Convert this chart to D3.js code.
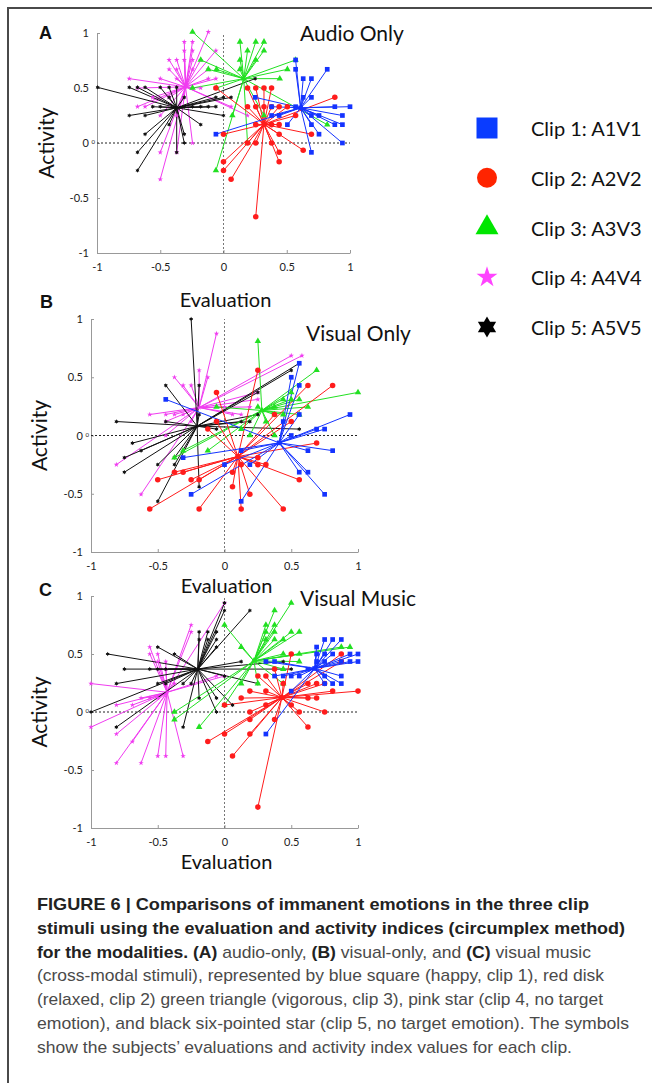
<!DOCTYPE html>
<html lang="en">
<head>
<meta charset="UTF-8">
<title>Figure 6</title>
<style>
  body { margin: 0; background: #fff; }
  svg { display: block; }
  .axis text { font-family: Lato, sans-serif; font-size: 11px; fill: #222; }
  .axis path, .axis line { stroke: #999; }
  .lbl { font-family: Lato, sans-serif; fill: #111; }
  .letter { font-family: "Liberation Sans", Arial, sans-serif; font-weight: bold; font-size: 18px; fill: #111; }
  .cap { font-family: "Liberation Sans", Arial, sans-serif; font-size: 17px; fill: #4a4a4a; }
  .cap .b { font-weight: bold; fill: #222; }
</style>
</head>
<body>
<svg width="652" height="1083"></svg>
<script src="https://d3js.org/d3.v7.min.js"></script>
<script>
// ---- data: [evaluation, activity] per subject ----
const clipNames = ["Clip 1: A1V1", "Clip 2: A2V2", "Clip 3: A3V3", "Clip 4: A4V4", "Clip 5: A5V5"];
const ticks = [-1, -0.5, 0, 0.5, 1];

// A: audio only
const audioMeans = [[0.61, 0.32], [0.32, 0.17], [0.16, 0.585], [-0.30, 0.51], [-0.37, 0.32]];
const audioBlue = [[0.57,0.755],[0.57,0.67],[0.82,0.67],[0.63,0.585],[0.695,0.585],[0.63,0.415],[0.695,0.415],[0.25,0.415],[0.38,0.33],[0.57,0.33],[0.88,0.33],[1.0,0.33],[0.38,0.25],[0.44,0.25],[0.695,0.25],[0.755,0.25],[0.94,0.25],[0.505,0.167],[0.695,0.167],[0.88,0.167],[0.94,0.167],[-0.06,0.08],[0.755,0.08],[0.695,-0.085],[0.94,0]];
const audioRed = [[-0.06,0.5],[0.19,0.5],[0.255,0.5],[0.32,0.5],[0.38,0.5],[0.19,0.33],[0.255,0.33],[0.32,0.33],[0.38,0.33],[0.44,0.33],[0.505,0.33],[0.57,0.25],[0.255,0.167],[0.38,0.167],[0.44,0.167],[0,0.08],[0.44,0.08],[0.695,0.08],[0.88,0.415],[0.19,0],[0.255,0],[0.38,0],[0.44,-0.085],[0.44,-0.17],[0.63,-0.065],[0,-0.17],[0,-0.25],[0.06,-0.33],[0.255,-0.67]];
const audioGreen = [[-0.245,1.01],[0.13,0.92],[0.255,0.92],[0.32,0.92],[0.19,0.84],[0.32,0.84],[0.13,0.755],[0.255,0.755],[-0.18,0.755],[-0.12,0.67],[-0.055,0.67],[0.13,0.67],[0.505,0.67],[0.57,0.755],[0.445,0.585],[-0.245,0.5],[-0.055,0.5],[0.07,0.25],[0.19,0],[-0.06,-0.25],[0.32,0.25],[0.82,0.167]];
const audioPink = [[-0.12,1.01],[-0.31,0.92],[-0.245,0.92],[-0.31,0.84],[-0.245,0.84],[-0.06,0.84],[-0.43,0.755],[-0.37,0.755],[-0.31,0.755],[-0.245,0.755],[-0.18,0.755],[-0.43,0.67],[-0.37,0.67],[-0.245,0.67],[-0.12,0.67],[-0.745,0.585],[-0.50,0.585],[-0.37,0.585],[-0.12,0.585],[-0.06,0.585],[-0.68,0.5],[-0.245,0.5],[-0.18,0.5],[-0.56,0.415],[-0.43,0.415],[-0.68,0.33],[-0.62,0.33],[-0.50,0.25],[-0.37,0.25],[-0.50,-0.085],[-0.37,-0.085],[-0.245,0],[-0.50,-0.33],[0.19,0.25],[0.06,0.33]];
const audioBlack = [[-0.995,0.506],[-0.745,0.506],[-0.68,0.506],[-0.62,0.506],[-0.50,0.506],[-0.43,0.506],[-0.37,0.506],[-0.745,0.25],[-0.62,0.25],[-0.56,0.33],[-0.50,0.33],[-0.43,0.415],[-0.31,0.415],[-0.31,0.33],[-0.245,0.33],[-0.18,0.33],[-0.12,0.33],[-0.06,0.33],[-0.06,0.415],[0,0.415],[0.06,0.415],[0,0.25],[0.25,0.585],[-0.18,0.167],[-0.43,0.167],[-0.62,0.08],[-0.68,-0.085],[-0.68,-0.25],[-0.37,-0.085],[-0.31,0.08],[-0.31,0]];

// B: visual only
const visualMeans = [[0.41, -0.063], [0.10, -0.18], [0.28, 0.215], [-0.19, 0.24], [-0.205, 0.08]];
const visualBlue = [[0.56,0.62],[0.5,0.5],[0.56,0.43],[0.56,0.18],[0.44,0.12],[0.94,0.18],[0.69,0.055],[0.75,0.055],[0.5,0],[0.625,-0.13],[0.81,-0.13],[0.56,-0.315],[0.625,-0.315],[0.75,-0.505],[0.125,-0.565],[-0.25,-0.505],[0,-0.25],[0.19,-0.25],[0.125,-0.13],[-0.31,-0.19],[-0.44,0.31]];
const visualRed = [[-0.06,0.37],[0.25,0.56],[0.625,0.43],[0.81,0.43],[0.375,0.18],[0.5,0.12],[-0.06,0.12],[-0.125,0.055],[0.69,-0.065],[0.56,-0.38],[0.25,-0.19],[0.25,-0.25],[0.31,-0.25],[0.06,-0.315],[0.06,-0.44],[0.19,-0.505],[0.125,-0.63],[0.44,-0.63],[-0.19,-0.63],[-0.56,-0.63],[-0.5,-0.38],[-0.375,-0.315],[-0.31,-0.315],[-0.25,-0.38],[-0.19,-0.38],[0.125,-0.25]];
const visualGreen = [[0.25,0.81],[0.69,0.56],[1.0,0.37],[0.625,0.245],[0.5,0.37],[0.56,0.31],[0.44,0.31],[0.5,0.31],[0.25,0.245],[0.375,0.245],[0.375,0.18],[0.44,0.18],[0.56,0.18],[0.31,0.12],[0.19,0],[0.375,0],[0.125,0.055],[-0.125,-0.13],[-0.375,-0.19],[-0.31,-0.13],[-0.06,0.245]];
const visualPink = [[-0.06,0.875],[-0.19,0.56],[-0.125,0.5],[-0.375,0.5],[-0.31,0.43],[-0.25,0.43],[0.5,0.685],[0.58,0.685],[0.25,0.37],[0.25,0.31],[-0.56,0.18],[-0.44,0.18],[-0.375,0.18],[-0.31,0.18],[-0.44,0.12],[-0.25,0.12],[0.06,0.18],[0.125,0.18],[-0.44,0],[-0.81,-0.25],[-0.625,-0.505],[0,0.245],[0.19,0.245]];
const visualBlack = [[-0.25,1.0],[-0.44,0.43],[-0.19,0.43],[-0.81,0.12],[-0.69,-0.065],[-0.75,-0.19],[-0.75,-0.315],[-0.625,-0.13],[-0.5,-0.25],[-0.5,-0.565],[-0.375,-0.25],[-0.19,-0.44],[0.56,0.62],[0.5,0.56],[0.25,0.37],[0.25,0.18],[0.125,0.12],[0.19,0.12],[0.56,0.055],[-0.06,0.055],[-0.19,0.18],[-0.44,0.12],[-0.375,-0.19]];

// C: visual music
const musicMeans = [[0.675, 0.375], [0.43, 0.125], [0.22, 0.44], [-0.43, 0.17], [-0.2, 0.37]];
const musicBlue = [[0.69,0.56],[0.75,0.625],[0.81,0.625],[0.875,0.625],[0.69,0.5],[0.75,0.5],[0.81,0.5],[0.94,0.5],[1.0,0.5],[0.69,0.435],[0.75,0.435],[0.875,0.435],[0.94,0.435],[1.0,0.435],[0.375,0.435],[0.31,0.435],[0.44,0.31],[0.5,0.31],[0.56,0.31],[0.375,0.31],[0.75,0.31],[0.875,0.31],[0.75,0.245],[0.81,0.245],[0.875,0.245],[0.5,0.18],[0.31,-0.19],[0.625,0.37]];
const musicRed = [[0.5,0.5],[0.875,0.5],[0.875,0.435],[0.31,0.31],[0.25,0.31],[0.375,0.37],[0.625,0.245],[0.69,0.245],[0.75,0.245],[0.125,0.12],[0.19,0.18],[0.31,0.18],[0.625,0.12],[0.69,0.12],[0.81,0.18],[1.0,0.18],[0.31,0.06],[0.5,0.06],[0.19,0],[0.56,0],[0.75,0],[0.19,-0.065],[0.375,-0.065],[0.625,-0.13],[0.19,-0.19],[0,-0.19],[-0.125,-0.255],[0.06,-0.38],[0.25,-0.82],[0,0.06],[0.44,0.245]];
const musicGreen = [[0.5,0.94],[0.375,0.875],[0.31,0.75],[0.375,0.75],[0.31,0.69],[0.375,0.69],[0.5,0.69],[0.56,0.69],[0.31,0.625],[0.375,0.625],[0.44,0.625],[0,0.75],[0.125,0.56],[0.44,0.5],[0.56,0.5],[0.94,0.56],[0.56,0.435],[0.44,0.37],[0.125,0.245],[0.25,0.245],[0.44,0.245],[-0.19,-0.13],[-0.375,0],[-0.375,-0.065],[0,0.06],[0.875,0.56]];
const musicPink = [[0,0.94],[-0.25,0.75],[-0.25,0.69],[-0.56,0.56],[-0.5,0.5],[-0.56,0.5],[-0.5,0.435],[-0.44,0.435],[-1,0.245],[-0.625,0.12],[-0.56,0.12],[-0.5,0.12],[-0.81,0.06],[-0.69,0.06],[-1,-0.13],[-0.81,-0.19],[-0.69,-0.255],[-0.81,-0.44],[-0.625,-0.44],[-0.5,-0.38],[-0.44,-0.38],[-0.31,-0.38],[-0.375,0.245],[-0.06,0.31],[0,0.31],[-0.44,0.37]];
const musicBlack = [[0,0.875],[0,0.94],[0.19,0.875],[-0.19,0.69],[-0.125,0.69],[-0.06,0.69],[-0.19,0.625],[-0.125,0.625],[-0.06,0.625],[-0.06,0.56],[-0.5,0.56],[-0.875,0.5],[-0.375,0.5],[-0.75,0.37],[-0.56,0.37],[-0.5,0.37],[-0.44,0.37],[-0.81,0.245],[-0.5,0.245],[-0.44,0.245],[-0.31,0.245],[-0.25,0.245],[0,0.31],[-0.19,0.12],[-0.06,0.12],[0.06,0.06],[-0.06,0],[-0.31,-0.13],[-0.81,-0.13],[-1,0],[0.25,0.245],[0.125,0.435],[0.44,0.435],[0.5,0.37]];

const captionLines = [
  [["FIGURE 6 | Comparisons of immanent emotions in the three clip", 1]],
  [["stimuli using the evaluation and activity indices (circumplex method)", 1]],
  [["for the modalities. (A)", 1], [" audio-only, ", 0], ["(B)", 1], [" visual-only, and ", 0], ["(C)", 1], [" visual music", 0]],
  [["(cross-modal stimuli), represented by blue square (happy, clip 1), red disk", 0]],
  [["(relaxed, clip 2) green triangle (vigorous, clip 3), pink star (clip 4, no target", 0]],
  [["emotion), and black six-pointed star (clip 5, no target emotion). The symbols", 0]],
  [["show the subjects\u2019 evaluations and activity index values for each clip.", 0]]
];
const captionWidths = [552, 588, 554, 567, 566, 592, 535];

// ---- styling ----
const colors = ["#1433ff", "#ff1c1c", "#22e022", "#f03cf0", "#111111"];
const legendColors = ["#0a3cff", "#ff2400", "#00e600", "#ff44ff", "#000000"];

const symbolHexagram = {
  draw(ctx, size) {
    const r = Math.sqrt(size / 2.6), ri = r / Math.sqrt(3);
    for (let i = 0; i < 12; i++) {
      const a = Math.PI / 6 * i - Math.PI / 2, rr = i % 2 ? ri : r;
      if (i) ctx.lineTo(rr * Math.cos(a), rr * Math.sin(a));
      else ctx.moveTo(rr * Math.cos(a), rr * Math.sin(a));
    }
    ctx.closePath();
  }
};
const shapes = [d3.symbolSquare, d3.symbolCircle, d3.symbolTriangle, d3.symbolStar, symbolHexagram];
const markSizes = [22, 24, 18, 9, 13];

const svg = d3.select("svg");
svg.append("rect").attr("width", 652).attr("height", 1083).attr("fill", "#fff");
svg.append("path").attr("d", "M8,1083V8H652")
  .attr("fill", "none").attr("stroke", "#4a4a4a").attr("stroke-width", 2);

const panels = [
  { letter: "A", title: "Audio Only", means: audioMeans, sets: [audioBlue, audioRed, audioGreen, audioPink, audioBlack],
    x: [97, 350], y: [253, 33], lx: 39, ly: 39, tx: 300, ty: 41, ax: 45, ey: 307 },
  { letter: "B", title: "Visual Only", means: visualMeans, sets: [visualBlue, visualRed, visualGreen, visualPink, visualBlack],
    x: [91, 358], y: [552, 319], lx: 40, ly: 308, tx: 306, ty: 341, ax: 38, ey: 593 },
  { letter: "C", title: "Visual Music", means: musicMeans, sets: [musicBlue, musicRed, musicGreen, musicPink, musicBlack],
    x: [91, 358], y: [828, 596], lx: 39, ly: 596, tx: 300, ty: 606, ax: 38, ey: 869 }
];

const drawOrder = [3, 4, 2, 1, 0];

panels.forEach(p => {
  const x = d3.scaleLinear().domain([-1, 1]).range(p.x);
  const y = d3.scaleLinear().domain([-1, 1]).range(p.y);
  const g = svg.append("g");

  g.append("g").attr("class", "axis")
    .attr("transform", `translate(0,${y(-1)})`)
    .call(d3.axisBottom(x).tickValues(ticks).tickFormat(d => String(d))
      .tickSizeInner(-3).tickSizeOuter(0).tickPadding(10));
  g.append("g").attr("class", "axis")
    .attr("transform", `translate(${x(-1)},0)`)
    .call(d3.axisLeft(y).tickValues(ticks).tickFormat(d => String(d))
      .tickSizeInner(-3).tickSizeOuter(0).tickPadding(8));
  g.append("text").attr("class", "lbl")
    .attr("x", x(-1) - 2).attr("y", y(0) + 1)
    .attr("text-anchor", "end").attr("font-size", 6).text("0");

  g.append("line").attr("x1", x(-1)).attr("x2", x(1)).attr("y1", y(0)).attr("y2", y(0))
    .attr("stroke", "#222").attr("stroke-dasharray", "2,2");
  g.append("line").attr("x1", x(0)).attr("x2", x(0)).attr("y1", y(-1)).attr("y2", y(1))
    .attr("stroke", "#777").attr("stroke-dasharray", "2,2");

  drawOrder.forEach(k => {
    const m = p.means[k];
    g.append("g").selectAll("line").data(p.sets[k]).join("line")
      .attr("x1", x(m[0])).attr("y1", y(m[1]))
      .attr("x2", d => x(d[0])).attr("y2", d => y(d[1]))
      .attr("stroke", colors[k]).attr("stroke-width", 1);
  });
  drawOrder.forEach(k => {
    const sym = d3.symbol().type(shapes[k]).size(markSizes[k]);
    g.append("g").selectAll("path").data(p.sets[k].concat([p.means[k]])).join("path")
      .attr("transform", d => `translate(${x(d[0])},${y(d[1])})`)
      .attr("d", sym).attr("fill", colors[k]);
  });

  svg.append("text").attr("class", "letter").attr("x", p.lx).attr("y", p.ly).text(p.letter);
  svg.append("text").attr("class", "lbl").attr("x", p.tx).attr("y", p.ty)
    .attr("font-size", 21).text(p.title);
  svg.append("text").attr("class", "lbl")
    .attr("transform", `translate(${p.ax},${(p.y[0] + p.y[1]) / 2}) rotate(-90)`)
    .attr("text-anchor", "middle").attr("dominant-baseline", "central")
    .attr("font-size", 21).text("Activity");
  svg.append("text").attr("class", "lbl")
    .attr("x", (p.x[0] + p.x[1]) / 2 + 2).attr("y", p.ey)
    .attr("text-anchor", "middle").attr("font-size", 20).text("Evaluation");
});

// legend
const legendY = d3.scalePoint().domain(clipNames).range([128, 327]);
const legendSizes = [441, 314, 229, 136, 290];
const lg = svg.append("g");
clipNames.forEach((name, k) => {
  lg.append("path")
    .attr("transform", `translate(487,${legendY(name)})`)
    .attr("d", d3.symbol().type(shapes[k]).size(legendSizes[k]))
    .attr("fill", legendColors[k]);
  lg.append("text").attr("class", "lbl")
    .attr("x", 531).attr("y", legendY(name))
    .attr("dominant-baseline", "central").attr("font-size", 20).attr("fill", "#222")
    .text(name);
});

// caption
captionLines.forEach((line, i) => {
  const t = svg.append("text").attr("class", "cap")
    .attr("x", 37).attr("y", 910 + i * 23.8)
    .attr("textLength", captionWidths[i]).attr("lengthAdjust", "spacingAndGlyphs");
  line.forEach(([s, b]) => t.append("tspan").attr("class", b ? "b" : null).text(s));
});
</script>
</body>
</html>
